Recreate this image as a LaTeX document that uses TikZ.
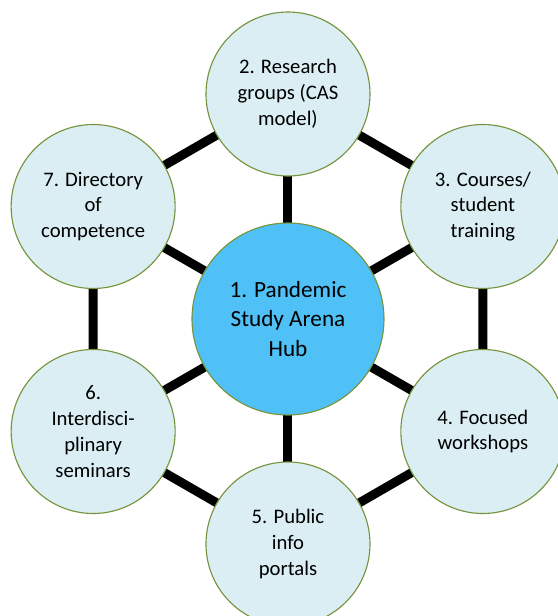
\documentclass[tikz,border=0pt]{standalone}
\usepackage{fontspec}
\setmainfont{Carlito}
\usetikzlibrary{positioning,backgrounds}
\definecolor{ringblue}{RGB}{218,238,243}
\definecolor{hubblue}{RGB}{79,193,246}
\definecolor{edgegreen}{RGB}{119,147,60}

\begin{document}
\begin{tikzpicture}[
    spoke/.style={line width=0.225cm, black},
    topic/.style={circle, draw=edgegreen, line width=0.8pt, fill=ringblue, minimum size=4.1cm, inner sep=0pt, align=center, font=\fontsize{14.7}{18.4}\selectfont},
    hub/.style={topic, fill=hubblue, minimum size=4.8cm, font=\fontsize{16.5}{21}\selectfont}
]
    \useasboundingbox (-7.2,-7.425) rectangle (6.75,7.975);

    % Hub
    \node[hub] (hub) at (0,0) {1. Pandemic\\Study Arena\\Hub};

    % Ring of activities
    \node[topic] (research) at (90:5.625) {2. Research\\groups (CAS\\model)};
    \node[topic] (courses) at (30:5.625) {3. Courses/\\student\\training};
    \node[topic] (workshops) at (-30:5.625) {4. Focused\\workshops};
    \node[topic] (portals) at (-90:5.625) {5. Public\\info\\portals};
    \node[topic] (seminars) at (-150:5.625) {6.\\Interdisci-\\plinary\\seminars};
    \node[topic] (directory) at (150:5.625) {7. Directory\\of\\competence};

    % Links
    \begin{scope}[on background layer]
        \foreach \n in {research,courses,workshops,portals,seminars,directory}
            \draw[spoke] (hub.center) -- (\n.center);
        \draw[spoke] (research.center) -- (courses.center) -- (workshops.center) -- (portals.center) -- (seminars.center) -- (directory.center) -- cycle;
    \end{scope}
\end{tikzpicture}
\end{document}
